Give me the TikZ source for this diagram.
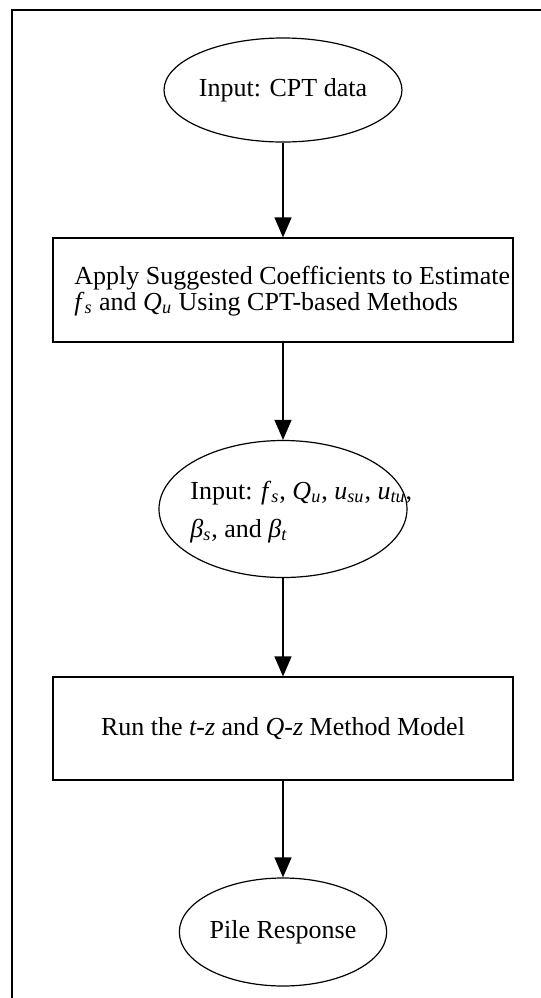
\documentclass[tikz,border=0pt]{standalone}
\usepackage{fontspec}
\setmainfont{Liberation Serif}
\usetikzlibrary{shapes.geometric}
\usetikzlibrary{arrows.meta}

\newcommand{\isub}[2]{\textit{#1}\textsubscript{\textit{#2}}}

\tikzset{
  bubble/.style={draw, ellipse, line width=0.6pt, inner sep=0pt},
  stepbox/.style={draw, rectangle, line width=0.6pt, inner sep=0pt,
    minimum width=230pt},
  label text/.style={font=\fontsize{13}{13}\selectfont, inner sep=0pt},
  flow/.style={line width=0.6pt,
    -{Triangle[length=10pt, width=8.5pt]}}
}

\begin{document}
\begin{tikzpicture}[x=0.5pt, y=-0.5pt]
    \path [use as bounding box]
      (0, 0) rectangle (541, 998);

    \draw[line width=0.8pt] (12, 998) -- (12, 10) -- (541, 10);

    \node[bubble, minimum width=103pt, minimum height=52pt,
      label text] (cpt) at (283, 90) {Input: CPT data};

    \node[stepbox, minimum height=52pt] (coef) at (283, 290) {};
    \node[label text, align=left, anchor=west] (coeftext) at (74, 291)
      {Apply Suggested Coefficients to Estimate\\
       \isub{f}{s} and \isub{Q}{u} Using CPT-based Methods};

    \node[bubble, minimum width=124pt, minimum height=68.5pt] (param)
      at (283, 509) {};
    \node[label text, align=left, anchor=west,
      font=\fontsize{13}{19}\selectfont] (paramtext) at (190, 512)
      {Input: \isub{f}{s}, \isub{Q}{u}, \isub{u}{su}, \isub{u}{tu},\\
       \isub{β}{s}, and \isub{β}{t}};

    \node[stepbox, minimum height=51.5pt, label text] (model)
      at (283, 728.5) {Run the \textit{t-z} and \textit{Q-z} Method Model};

    \node[bubble, minimum width=103.5pt, minimum height=54pt,
      label text] (pile) at (283, 932) {Pile Response};

    \draw[flow] (cpt) -- (coef);
    \draw[flow] (coef) -- (param);
    \draw[flow] (param) -- (model);
    \draw[flow] (model) -- (pile);

  \end{tikzpicture}
\end{document}
